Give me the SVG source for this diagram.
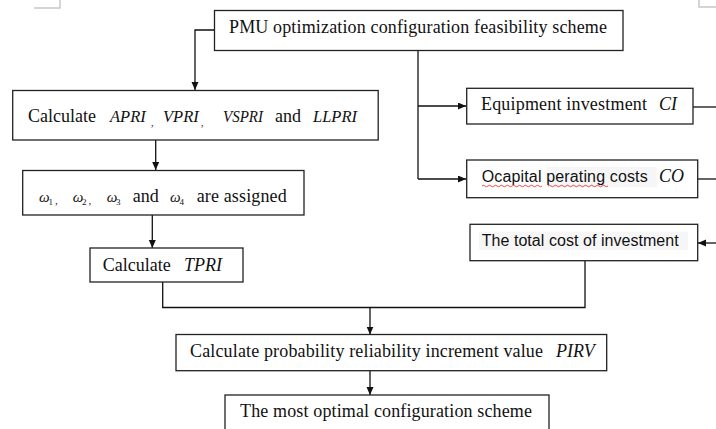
<svg xmlns="http://www.w3.org/2000/svg" width="716" height="429" viewBox="0 0 716 429">
<style>
.box{fill:#fff;stroke:#222;stroke-width:1.3}
.ln{fill:none;stroke:#111;stroke-width:1.3}
.arr{fill:none;stroke:#111;stroke-width:1.3;marker-end:url(#ah)}
.sf{font-family:"Liberation Serif","Times New Roman",serif;font-size:18px;fill:#111}
.it{font-style:italic}
.ss{font-family:"Liberation Sans",Arial,sans-serif;font-size:16px;fill:#111}
.hl{fill:#f6f6f7}
.crn{fill:none;stroke:#c8c8c8;stroke-width:1.5}
.wav{fill:none;stroke:#d22;stroke-width:0.8}
</style>
<defs>
<marker id="ah" markerUnits="userSpaceOnUse" markerWidth="9" markerHeight="8" refX="8" refY="3.5" orient="auto">
<path d="M0,0 L8,3.5 L0,7 z" fill="#111"/>
</marker>
</defs>
<rect width="716" height="429" fill="#fff"/>
<g id="page-corners">
<polyline class="crn" points="34,8 60,8 60,0"/>
<polyline class="crn" points="716,7 699,7 699,0"/>
</g>
<g id="connectors">
<polyline class="arr" points="214,30 195,30 195,90"/>
<polyline class="ln" points="418,50 418,179"/>
<polyline class="arr" points="418,106 466,106"/>
<polyline class="arr" points="418,179 466,179"/>
<polyline class="ln" points="693,107 716,107"/>
<polyline class="ln" points="698,179 716,179"/>
<polyline class="arr" points="716,243 698,243"/>
<polyline class="arr" points="155.7,140 155.7,170"/>
<polyline class="arr" points="152.3,215 152.3,248"/>
<polyline class="ln" points="162.7,282 162.7,307.5 585,307.5 585,261"/>
<polyline class="arr" points="370,307.5 370,334.5"/>
<polyline class="arr" points="370,371 370,395"/>
</g>
<g id="n-feasibility">
<rect class="box" x="214.5" y="10.5" width="408.5" height="40"/>
<text class="sf" x="229" y="33" textLength="378" lengthAdjust="spacing">PMU optimization configuration feasibility scheme</text>
</g>
<g id="n-calc-indices">
<rect class="box" x="12.7" y="90.5" width="365.5" height="49.5"/>
<text class="sf" y="122"><tspan x="28">Calculate</tspan><tspan class="it" x="110" font-size="16.5">APRI</tspan><tspan x="151" y="126" font-size="10">,</tspan><tspan class="it" x="163" y="122" font-size="16.5">VPRI</tspan><tspan x="201" y="126" font-size="10">,</tspan><tspan class="it" x="223" y="122" font-size="16.5" textLength="40" lengthAdjust="spacingAndGlyphs">VSPRI</tspan><tspan x="275">and</tspan><tspan class="it" x="313" font-size="16.5" textLength="44" lengthAdjust="spacingAndGlyphs">LLPRI</tspan></text>
</g>
<g id="n-weights">
<rect class="box" x="22.7" y="170.5" width="281.3" height="44.5"/>
<text class="sf" y="202"><tspan class="it" x="39" font-size="15">ω</tspan><tspan x="48.5" y="205" font-size="9">1</tspan><tspan x="55" y="204" font-size="11">,</tspan><tspan class="it" x="72.7" y="202" font-size="15">ω</tspan><tspan x="82" y="205" font-size="9">2</tspan><tspan x="88.5" y="204" font-size="11">,</tspan><tspan class="it" x="106.7" y="202" font-size="15">ω</tspan><tspan x="116" y="205" font-size="9">3</tspan><tspan x="132.7" y="202">and</tspan><tspan class="it" x="170" font-size="15">ω</tspan><tspan x="179.5" y="205" font-size="9">4</tspan><tspan x="196.7" y="202" textLength="90" lengthAdjust="spacing">are assigned</tspan></text>
</g>
<g id="n-tpri">
<rect class="box" x="90" y="248" width="153" height="34"/>
<text class="sf" y="271"><tspan x="102.7">Calculate</tspan><tspan class="it" x="184">TPRI</tspan></text>
</g>
<g id="n-ci">
<rect class="box" x="466.7" y="88.3" width="226.3" height="35.7"/>
<text class="sf" y="110"><tspan x="481" textLength="166" lengthAdjust="spacing">Equipment investment</tspan><tspan class="it" x="659">CI</tspan></text>
</g>
<g id="n-co">
<rect class="box" x="466.7" y="160" width="231" height="37.7"/>
<rect class="hl" x="546.7" y="167" width="110" height="20"/>
<text class="ss" x="481.7" y="182" textLength="166" lengthAdjust="spacing">Ocapital perating costs</text>
<path class="wav" d="M482,186 q1.5,-1.5 3,0 t3,0 t3,0 t3,0 t3,0 t3,0 t3,0 t3,0 t3,0 t3,0 t3,0 t3,0 t3,0 t3,0 t3,0 t3,0 t3,0 t3,0 t3,0 t3,0 M548,186 q1.5,-1.5 3,0 t3,0 t3,0 t3,0 t3,0 t3,0 t3,0 t3,0 t3,0 t3,0 t3,0 t3,0 t3,0 t3,0 t3,0 t3,0 t3,0 t3,0 t3,0 t3,0"/>
<text class="sf it" x="659" y="182">CO</text>
</g>
<g id="n-total-cost">
<rect class="box" x="470" y="224.3" width="227.7" height="36.4"/>
<rect class="hl" x="479" y="231.7" width="209" height="18.3"/>
<text class="ss" x="481.7" y="246" textLength="197" lengthAdjust="spacing">The total cost of investment</text>
</g>
<g id="n-pirv">
<rect class="box" x="176" y="334.5" width="430.7" height="36.2"/>
<text class="sf" y="357"><tspan x="190" textLength="353" lengthAdjust="spacing">Calculate probability reliability increment value</tspan><tspan class="it" x="556">PIRV</tspan></text>
</g>
<g id="n-optimal">
<rect class="box" x="225" y="395" width="324" height="50"/>
<text class="sf" x="240" y="417" textLength="292" lengthAdjust="spacing">The most optimal configuration scheme</text>
</g>
</svg>
